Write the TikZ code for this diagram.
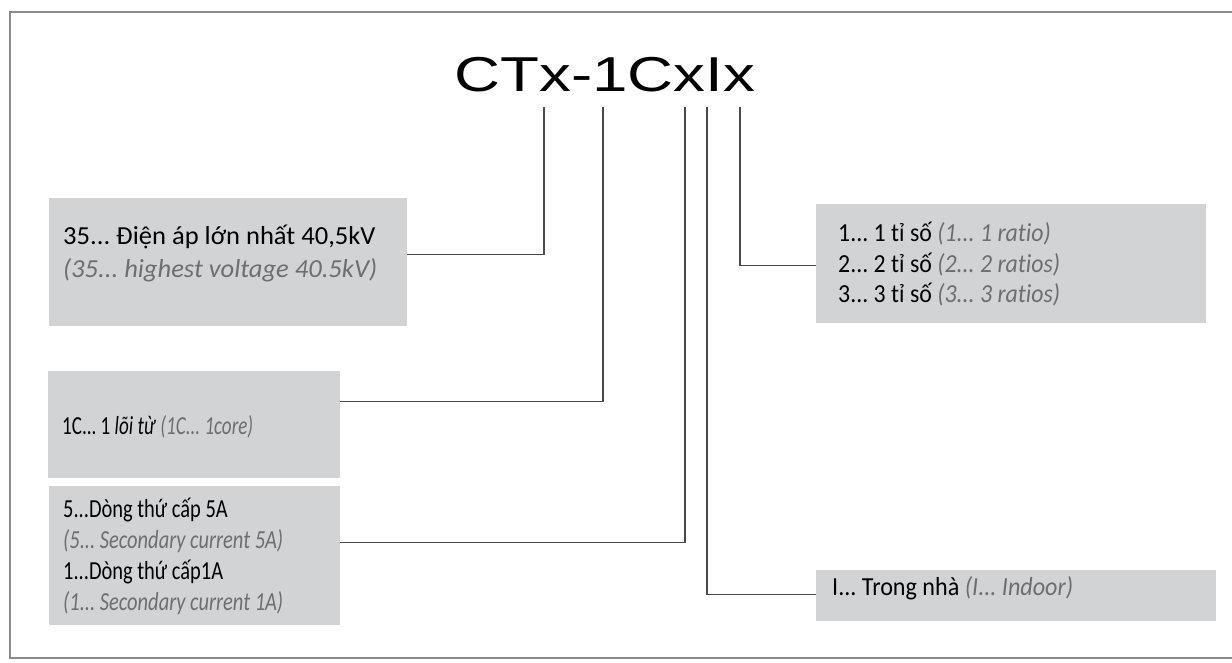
\documentclass[tikz,border=0pt]{standalone}
\usepackage{fontspec}
\usepackage{graphicx}
\setmainfont{Carlito}[Ligatures=NoCommon]
\newfontfamily\titlefont[FakeStretch=1.3]{Liberation Sans}
\definecolor{panelgray}{HTML}{D1D3D4}
\definecolor{notegray}{HTML}{6D6E71}
\definecolor{leadgray}{HTML}{4A4A4A}
\definecolor{framegray}{HTML}{8A8A8A}
\newcommand{\note}[1]{{\color{notegray}\itshape #1}}
\newcommand{\fitto}[2]{\resizebox{#1}{\height}{\begin{tabular}[t]{@{}l@{}}#2\end{tabular}}}
\frenchspacing

\begin{document}
\begin{tikzpicture}[x=1pt,y=-1pt,
  panel/.style={fill=panelgray,inner sep=0pt,anchor=north west},
  label/.style={inner sep=0pt,anchor=base west,font=\fontsize{26}{#1}\selectfont},
  lead/.style={leadgray,line width=1.2pt}]

  \useasboundingbox (0,0) rectangle (1232,663);

  % frame
  \draw[framegray,line width=1.5pt] (1232,12) -- (10,12) -- (10,658) -- (1232,658);

  % code
  \node[anchor=base] (code) at (605,92) {\titlefont\fontsize{49}{49}\selectfont CTx-1CxIx};

  % grey panels
  \node[panel,minimum width=358,minimum height=128] (voltbox) at (49,198) {};
  \node[panel,minimum width=292,minimum height=107] (corebox) at (48,371) {};
  \node[panel,minimum width=291,minimum height=139] (currbox) at (49,486) {};
  \node[panel,minimum width=390,minimum height=119] (ratiobox) at (816,204) {};
  \node[panel,minimum width=400,minimum height=51] (placebox) at (816,570) {};

  % texts
  \node[label=32] (volt) at (63,245)
    {\fitto{314pt}{35... Điện áp lớn nhất 40,5kV\\\note{(35... highest voltage 40.5kV)}}};
  \node[label=32] (core) at (62,434)
    {\fitto{191pt}{1C... 1 \textit{lõi từ} \note{(1C... 1core)}}};
  \node[label=31] (curr) at (63,517)
    {\fitto{220pt}{5...Dòng thứ cấp 5A\\\note{(5... Secondary current 5A)}\\
     1...Dòng thứ cấp1A\\\note{(1... Secondary current 1A)}}};
  \node[label=30] (ratio) at (838,242)
    {\fitto{222pt}{1... 1 tỉ số \note{(1... 1 ratio)}\\2... 2 tỉ số \note{(2... 2 ratios)}\\
     3... 3 tỉ số \note{(3... 3 ratios)}}};
  \node[label=32] (place) at (832,595)
    {\fitto{241pt}{I... Trong nhà \note{(I... Indoor)}}};

  % leads
  \coordinate (t1) at (544,107);
  \coordinate (t2) at (603,107);
  \coordinate (t3) at (685,107);
  \coordinate (t4) at (707,107);
  \coordinate (t5) at (740,107);

  \draw[lead] (t1) |- ([yshift=8pt]voltbox.east);
  \draw[lead] (t2) |- ([yshift=23.5pt]corebox.east);
  \draw[lead] (t3) |- ([yshift=13.5pt]currbox.east);
  \draw[lead] (t4) |- ([yshift=1.5pt]placebox.west);
  \draw[lead] (t5) |- ([yshift=-1.5pt]ratiobox.west);

\end{tikzpicture}
\end{document}
